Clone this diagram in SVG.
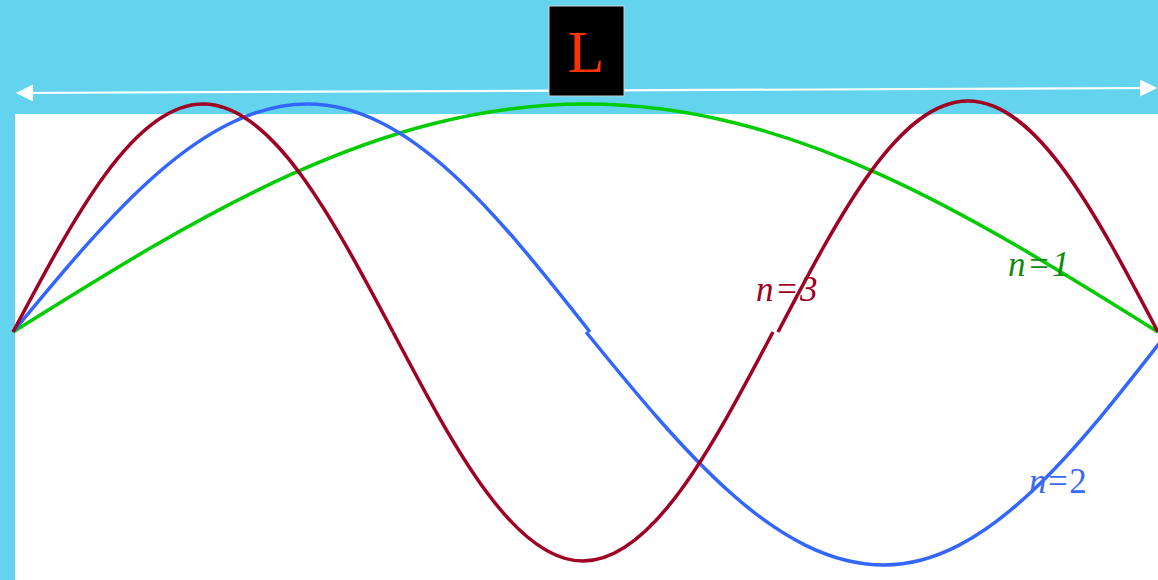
<svg xmlns="http://www.w3.org/2000/svg" width="1158" height="580" viewBox="0 0 1158 580">
<defs>
<marker id="ah" viewBox="0 0 16 16" refX="15" refY="8" markerWidth="17" markerHeight="17" markerUnits="userSpaceOnUse" orient="auto-start-reverse"><path d="M0,0 L16,8 L0,16 Z" fill="#ffffff"/></marker>
<style>
.wave{fill:none;stroke-width:3.5;stroke-linecap:butt}
.lbl{font-family:"Liberation Serif",serif;font-size:35px;font-style:italic;letter-spacing:1.5px}
</style>
</defs>
<rect x="0" y="0" width="1158" height="580" fill="#64D4EE"/>
<rect x="15" y="114" width="1143" height="466" fill="#ffffff"/>
<g id="dimension">
<line x1="17" y1="93" x2="1156" y2="88" stroke="#ffffff" stroke-width="2.2" marker-start="url(#ah)" marker-end="url(#ah)"/>
</g>
<g id="label-L">
<rect x="549" y="6" width="75" height="90" fill="#000000" stroke="#c8d0d4" stroke-width="1"/>
<text x="586" y="72" text-anchor="middle" font-family="Liberation Serif, serif" font-size="60" fill="#FF3300">L</text>
</g>
<g id="connectors">
<path id="n1" class="wave" stroke="#00CC00" d="M13,332 C199.7,215.2 378.3,104 585.5,104 C792.7,104 971.3,215.2 1158,332"/>
<path id="n2a" class="wave" stroke="#3366FF" d="M13,332 C109.2,215.2 201.2,104 308,104 C410.1,104 498,215.2 590,332"/>
<path id="n2b" class="wave" stroke="#3366FF" d="M586,332 C683.2,451.4 776.2,565 884,565 C986.8,565 1075.4,451.4 1168,332"/>
<path id="n3a" class="wave" stroke="#A00024" d="M13,332 C75,215.2 134.2,104 203,104 C271.8,104 331,215.2 393,332"/>
<path id="n3b" class="wave" stroke="#A00024" d="M393,332 C455,449.3 514.2,561 583,561 C651.8,561 711,449.3 773,332"/>
<path id="n3c" class="wave" stroke="#A00024" d="M778,332 C840,213.7 899.2,101 968,101 C1036.8,101 1096,213.7 1158,332"/>
</g>
<g id="label-n3"><text class="lbl" x="756" y="301" fill="#A00024">n=3</text></g>
<g id="label-n1"><text class="lbl" x="1008" y="276" fill="#118A11">n=1</text></g>
<g id="label-n2"><text class="lbl" x="1029" y="493" fill="#3A6AF5">n<tspan font-style="normal">=2</tspan></text></g>
</svg>
